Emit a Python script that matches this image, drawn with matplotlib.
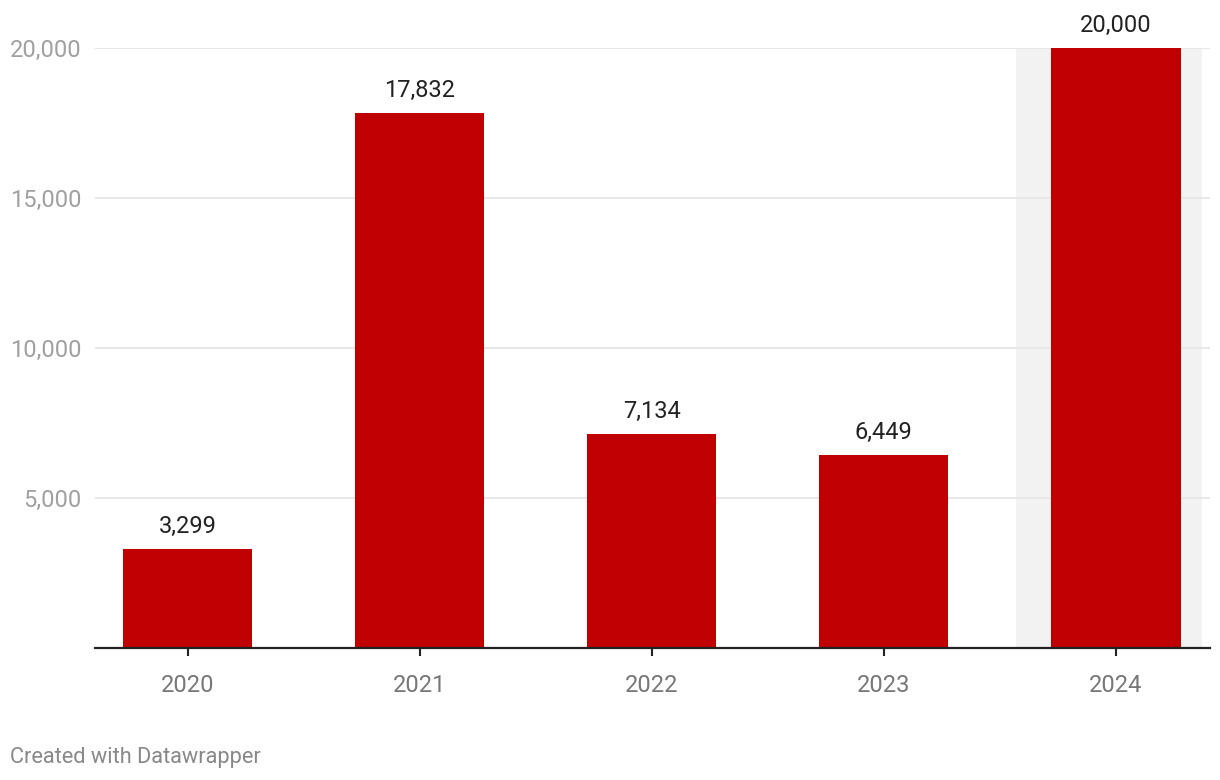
import matplotlib.pyplot as plt
import numpy as np

plt.rcParams['font.family'] = ['Roboto', 'DejaVu Sans']

# dati
years = ["2020", "2021", "2022", "2023", "2024"]
values = [3299, 17832, 7134, 6449, 20000]
yticks = [5000, 10000, 15000, 20000]
highlight = "2024"

fig = plt.figure(figsize=(12.2, 7.8), dpi=100)
ax = fig.add_axes([95 / 1220, 1 - 648 / 780, 1115 / 1220, 600 / 780])

x = np.arange(len(years))
hi = years.index(highlight)

# banda grigia dietro l'ultimo anno
ax.axvspan(hi - 0.43, hi + 0.371, color="#f2f2f2", zorder=0, lw=0)

ax.bar(x, values, width=0.556, color="#c00000", zorder=2)

for xi, v in zip(x, values):
    ax.annotate(f"{v:,}", (xi, v), xytext=(0, 16), textcoords="offset points",
                ha="center", va="center", fontsize=17, color="#222222")

ax.set_xlim(-0.3985, 4.405)
ax.set_ylim(0, 20000)

ax.set_yticks(yticks)
ax.set_yticklabels([f"{t:,}" for t in yticks])
ax.grid(axis="y", color="#e6e6e6", lw=1.3, zorder=1)
ax.set_axisbelow(True)

ax.set_xticks(x)
ax.set_xticklabels(years)

for s in ["top", "right", "left"]:
    ax.spines[s].set_visible(False)
ax.spines["bottom"].set_color("#222222")
ax.spines["bottom"].set_linewidth(1.6)
ax.spines["bottom"].set_zorder(3)

ax.tick_params(axis="y", length=0, pad=9.5, labelsize=17, labelcolor="#a0a0a0")
ax.tick_params(axis="x", length=6, width=1.5, color="#222222", pad=13,
               labelsize=17, labelcolor="#777777")

fig.text(10 / 1220, 1 - 757 / 780, "Created with Datawrapper", ha="left", va="center",
         fontsize=15.7, color="#888888")

fig.savefig("out.png", dpi=100)
